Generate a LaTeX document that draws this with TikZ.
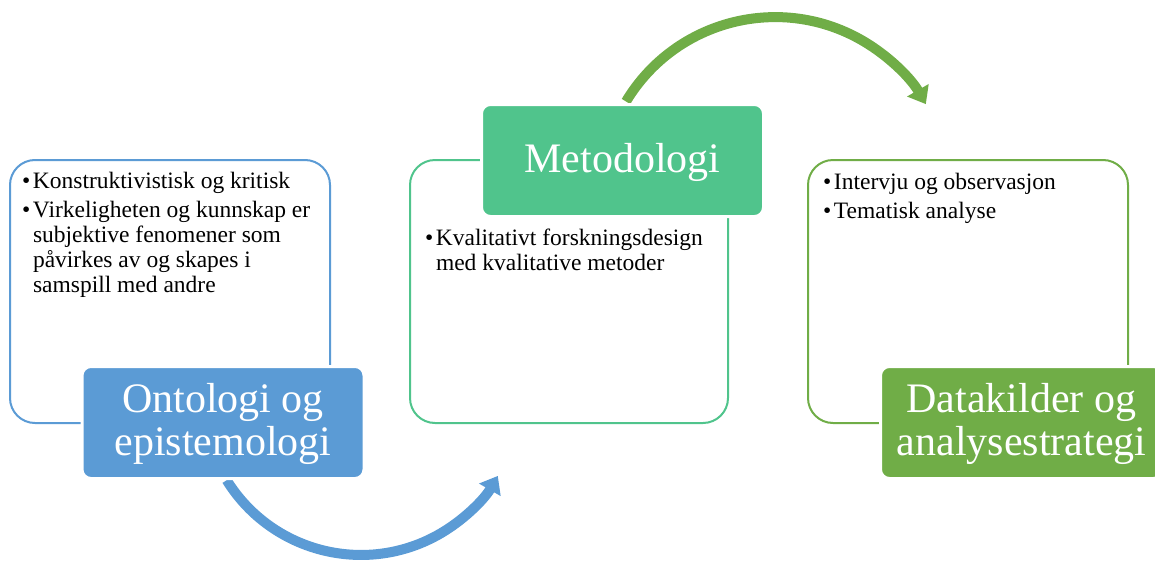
\documentclass[tikz,border=0pt]{standalone}
\usepackage{fontspec}
\setmainfont{Liberation Serif}
\usetikzlibrary{arrows.meta}
\definecolor{cblue}{RGB}{91,155,213}
\definecolor{cmint}{RGB}{80,196,140}
\definecolor{cgreen}{RGB}{112,173,71}
\newcommand{\bitem}[1]{\par\hangindent=11pt\hangafter=1\noindent\makebox[11pt][l]{\textbullet}#1}
\newcommand{\bodytext}[2]{\begin{minipage}[t]{#1}\fontsize{23.5}{25}\selectfont\raggedright\parskip=4.5pt #2\end{minipage}}
\tikzset{
  obox/.style={draw, line width=2pt, rounded corners=25pt, minimum height=263pt, inner sep=0pt, fill=white},
  tbox/.style={draw=white, line width=3pt, rounded corners=9pt, minimum width=282pt, minimum height=112pt,
    inner sep=0pt, text=white, align=center, font=\fontsize{42}{43}\selectfont},
  btext/.style={anchor=base west, inner sep=0pt, outer sep=0pt},
  flow/.style={line width=10pt, -{Triangle[width=24pt,length=16pt]}}
}
\begin{document}
\begin{tikzpicture}[x=1pt,y=-1pt]
\useasboundingbox (0,0) rectangle (1155,562);
% outline boxes
\node[obox, draw=cblue, minimum width=320pt] (b1) at (170,291.5) {};
\node[obox, draw=cmint, minimum width=318pt] (b2) at (569,291.5) {};
\node[obox, draw=cgreen, minimum width=320pt] (b3) at (968,291.5) {};
% arrows
\coordinate (a1s) at (226.7,480.2);
\coordinate (a2s) at (626,101.5);
\draw[flow, cblue] (a1s) arc[start angle=148.2, end angle=30, radius=158];
\draw[flow, cgreen] (a2s) arc[start angle=-149, end angle=-30, radius=174];
% title boxes
\node[tbox, fill=cblue] (t1) at (223,422.5) {\rule{0pt}{32pt}Ontologi og\\epistemologi};
\node[tbox, fill=cmint] (t2) at (622.5,160.5) {\rule{0pt}{34pt}Metodologi};
\node[tbox, fill=cgreen] (t3) at (1021.5,422.5) {\rule{0pt}{32pt}Datakilder og\\analysestrategi};
% body texts
\node[btext] (x1) at (22,188) {\bodytext{310pt}{\bitem{Konstruktivistisk og kritisk}\bitem{Virkeligheten og kunnskap er\newline subjektive fenomener som\newline påvirkes av og skapes i\newline samspill med andre}}};
\node[btext] (x2) at (425,245) {\bodytext{300pt}{\bitem{Kvalitativt forskningsdesign\newline med kvalitative metoder}}};
\node[btext] (x3) at (823,189) {\bodytext{300pt}{\bitem{Intervju og observasjon}\bitem{Tematisk analyse}}};
\end{tikzpicture}
\end{document}
